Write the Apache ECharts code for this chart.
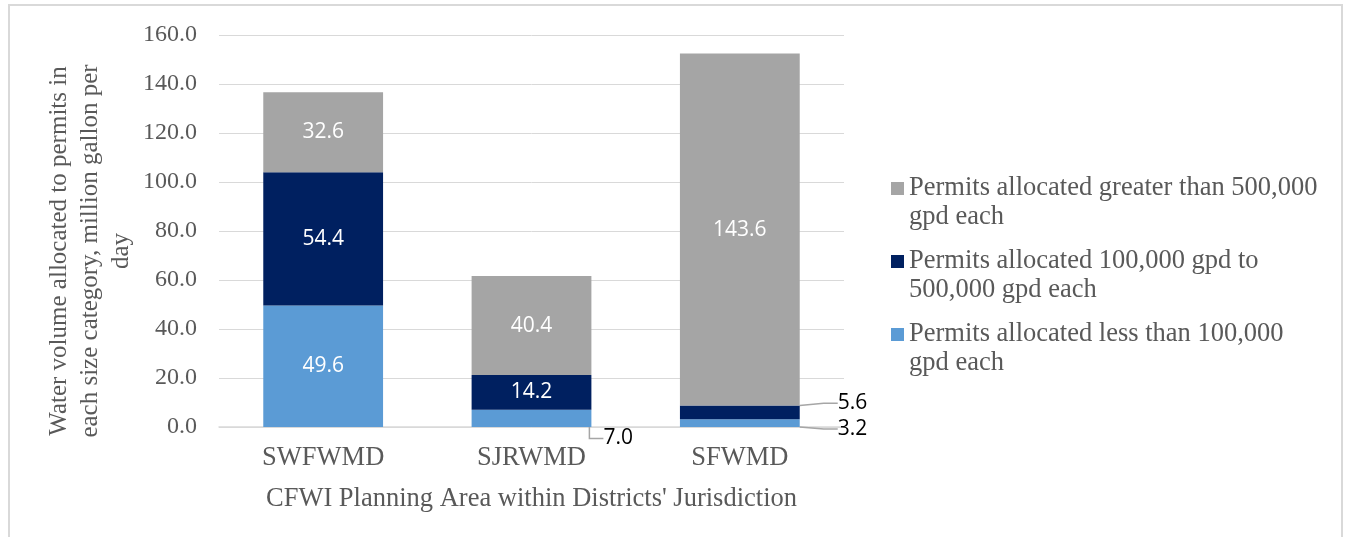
<!DOCTYPE html>
<html>
<head>
<meta charset="utf-8">
<script src="https://cdn.jsdelivr.net/npm/echarts@6/dist/echarts.min.js"></script>
<style>
  html, body { margin: 0; padding: 0; background: #fff; }
  .frame { position: absolute; left: 8px; top: 4px; width: 1331px; height: 600px; border: 2px solid #d9d9d9; }
  #chart { position: absolute; left: 0; top: 0; width: 1348px; height: 537px; }
</style>
</head>
<body>
<div class="frame"></div>
<div id="chart"></div>
<script>
// 数据
const districts = ['SWFWMD', 'SJRWMD', 'SFWMD'];
const lessThan100k = [49.6, 7.0, 3.2];
const between100k500k = [54.4, 14.2, 5.6];
const greaterThan500k = [32.6, 40.4, 143.6];
const yTicks = [0, 20, 40, 60, 80, 100, 120, 140, 160];

const seriesNames = [
  'Permits allocated less than 100,000\ngpd each',
  'Permits allocated 100,000 gpd to\n500,000 gpd each',
  'Permits allocated greater than 500,000\ngpd each'
];

const serif = '"Liberation Serif", "Times New Roman", serif';
const grey = '#595959';

// 小数值的标签挪到柱子外面，用引导线连过去
const outside = {
  '0-1': { dx: 8, dy: 20 },
  '0-2': { dx: 34, dy: 6 },
  '1-2': { dx: 34, dy: -9 }
};

// 图例方块只占第一行的高度（上下各留一个不可见的点撑开尺寸）
const legendIcon = 'path://M0,0L0,0M0,8L13,8L13,21L0,21ZM13,58L13,58';

const chart = echarts.init(document.getElementById('chart'));

const makeData = (vals, s) => vals.map((v, i) => {
  if (!outside[s + '-' + i]) return v;
  return {
    value: v,
    label: { position: 'right', color: '#000', distance: 4 },
    labelLine: { show: true, length2: 14, lineStyle: { color: '#a6a6a6', width: 1.5 } }
  };
});

const colors = ['#5b9bd5', '#002060', '#a5a5a5'];
const values = [lessThan100k, between100k500k, greaterThan500k];

chart.setOption({
  animation: false,
  grid: { left: 219, right: 504, top: 35, bottom: 110 },
  legend: {
    orient: 'vertical',
    left: 886,
    top: 169,
    data: [seriesNames[2], seriesNames[1], seriesNames[0]],
    icon: legendIcon,
    itemWidth: 13,
    itemHeight: 58,
    itemGap: 15,
    textStyle: { fontFamily: serif, fontSize: 26.5, color: grey, lineHeight: 29 }
  },
  xAxis: {
    type: 'category',
    data: districts,
    axisTick: { show: false },
    axisLine: { lineStyle: { color: '#d9d9d9', width: 1.5 } },
    axisLabel: { fontFamily: serif, fontSize: 26.5, color: grey, margin: 18 },
    name: "CFWI Planning Area within Districts' Jurisdiction",
    nameLocation: 'middle',
    nameGap: 59,
    nameTextStyle: { fontFamily: serif, fontSize: 26.5, color: grey }
  },
  yAxis: {
    type: 'value',
    min: yTicks[0],
    max: yTicks[yTicks.length - 1],
    interval: yTicks[1] - yTicks[0],
    axisLine: { show: false },
    axisTick: { show: false },
    splitLine: { lineStyle: { color: '#d9d9d9', width: 1 } },
    axisLabel: {
      fontFamily: serif, fontSize: 24, color: grey, margin: 22,
      formatter: (v) => v.toFixed(1)
    },
    name: 'Water volume allocated to permits in\neach size category, million gallon per\nday',
    nameLocation: 'middle',
    nameRotate: 90,
    nameGap: 82,
    nameTextStyle: {
      fontFamily: serif, fontSize: 25, color: grey, lineHeight: 31, align: 'center',
      padding: [0, 40, 0, 0]
    }
  },
  series: values.map((vals, s) => ({
    name: seriesNames[s],
    type: 'bar',
    stack: 'total',
    barWidth: '57.5%',
    itemStyle: { color: colors[s] },
    label: {
      show: true,
      position: 'inside',
      color: '#fff',
      fontFamily: '"Open Sans", "Noto Sans", sans-serif',
      fontSize: 21,
      formatter: (p) => Number(p.value).toFixed(1)
    },
    labelLayout: (params) => {
      const o = outside[s + '-' + params.dataIndex];
      return o ? { dx: o.dx, dy: o.dy } : {};
    },
    data: makeData(vals, s)
  }))
});
</script>
</body>
</html>
